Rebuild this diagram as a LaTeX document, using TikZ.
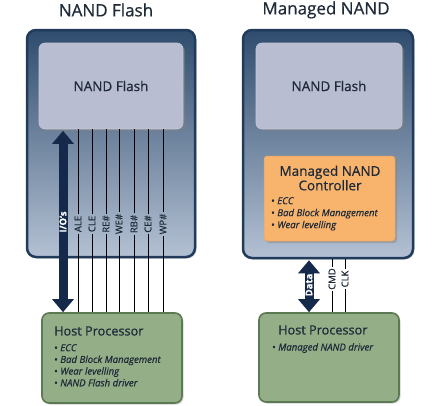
\documentclass[tikz,border=0pt]{standalone}
\usepackage{fontspec}
\setmainfont{Open Sans}[RawFeature={embolden=0.6}]
\usetikzlibrary{shadows,arrows.meta,calc}
\definecolor{navy}{HTML}{15294A}
\definecolor{panelborder}{HTML}{203B5C}
\definecolor{paneltop}{HTML}{2F4C6E}
\definecolor{panelmid}{HTML}{7088A5}
\definecolor{panelbot}{HTML}{B4C1D3}
\definecolor{chipfill}{HTML}{B9BDD1}
\definecolor{hostfill}{HTML}{94AE88}
\definecolor{hostborder}{HTML}{5B7A53}
\definecolor{ctrlfill}{HTML}{F8B46D}
\definecolor{txt}{HTML}{1E2A38}
\tikzset{
  panel/.style={draw=panelborder, line width=2.5pt, rounded corners=9pt,
    top color=paneltop, middle color=panelmid, bottom color=panelbot, inner sep=0pt,
    drop shadow={shadow xshift=1.5pt, shadow yshift=-1.5pt, opacity=0.35}},
  chip/.style={fill=chipfill, draw=chipfill!85!white, line width=0.6pt, rounded corners=6pt, inner sep=0pt,
    drop shadow={shadow xshift=2pt, shadow yshift=-2pt, opacity=0.5}},
  host/.style={fill=hostfill, draw=hostborder, line width=1.6pt, rounded corners=7pt, inner sep=0pt,
    drop shadow={shadow xshift=1.5pt, shadow yshift=-1.5pt, opacity=0.35}},
  ctrl/.style={fill=ctrlfill, draw=ctrlfill!90!black, line width=0.5pt, rounded corners=3pt, inner sep=0pt,
    drop shadow={shadow xshift=2pt, shadow yshift=-2pt, opacity=0.45}},
  sig/.style={rotate=90, font=\fontsize{9.5}{9.5}\selectfont, text=txt, inner sep=1.5pt},
  sigline/.style={draw=black, line width=0.6pt},
  bus/.style={draw=navy, line width=9pt,
    {Triangle[width=21pt,length=13pt]}-{Triangle[width=21pt,length=13pt]}},
  buslabel/.style={rotate=90, text=white, font=\fontsize{9.5}{9.5}\selectfont\bfseries, inner sep=0pt},
  title/.style={font=\fontsize{17}{17}\selectfont, text=txt},
  chiptext/.style={font=\fontsize{13.5}{13.5}\selectfont, text=txt},
  hosttitle/.style={font=\fontsize{12.7}{12.7}\selectfont, text=txt, anchor=west, inner sep=0pt},
  bullets/.style={font=\fontsize{9.6}{11.7}\selectfont\itshape, text=txt, align=left, anchor=north west, inner sep=0pt}
}
\begin{document}
\begin{tikzpicture}[x=1pt,y=-1pt]
\useasboundingbox (0,0) rectangle (439,405);

% titles
\node[title] (t1) at (106,10) {NAND Flash};
\node[title] (t2) at (326,10) {Managed NAND};

% panels
\node[panel, minimum width=168pt, minimum height=227pt] (lp) at (111,143.5) {};
\node[panel, minimum width=170pt, minimum height=228pt] (rp) at (328,144) {};

% NAND chips
\node[chip, minimum width=144pt, minimum height=86pt] (lnf) at (111,86) {};
\node[chiptext] at (lnf.center) {NAND Flash};
\node[chip, minimum width=146pt, minimum height=86pt] (rnf) at (329,86) {};
\node[chiptext] at (rnf.center) {NAND Flash};

% controller
\node[ctrl, minimum width=131pt, minimum height=85pt] (ctl) at (329.5,198.5) {};
\node[font=\fontsize{13.5}{12}\selectfont, text=txt, align=center] (ctlt) at (330,178) {Managed NAND\\Controller};
\node[bullets, font=\fontsize{9.6}{12}\selectfont\itshape] (ctlb) at (271,197) {{\upshape\textbullet} ECC\\{\upshape\textbullet} Bad Block Management\\{\upshape\textbullet} Wear levelling};

% hosts
\node[host, minimum width=140pt, minimum height=90pt] (lhost) at (112,358) {};
\node[hosttitle] (lht) at (54,331) {Host Processor};
\node[bullets] (lhb) at (54,344) {{\upshape\textbullet} ECC\\{\upshape\textbullet} Bad Block Management\\{\upshape\textbullet} Wear levelling\\{\upshape\textbullet} NAND Flash driver};
\node[host, minimum width=140pt, minimum height=89pt] (rhost) at (329,357.5) {};
\node[hosttitle] (rht) at (278,330) {Host Processor};
\node[bullets] (rhb) at (272,343) {{\upshape\textbullet} Managed NAND driver};

% left signal lines
\foreach \n/\x/\t in {ale/78/ALE, cle/92/CLE, re/106/RE\#, we/119/WE\#, rb/134/RB\#, ce/148/CE\#, wp/163/WP\#}{
  \node[sig] (\n) at (\x,224) {\t};
  \draw[sigline] (lnf.south -| \n) -- (\n.east);
  \draw[sigline] (\n.west) -- (lhost.north -| \n);
}
% I/O bus
\coordinate (io) at (63,0);
\draw[bus] ($(lnf.south -| io)+(0,1.5)$) -- (lhost.north -| io);
\node[buslabel] (iol) at (63,222) {I/O's};

% right signal lines
\foreach \n/\x/\t in {cmd/332/CMD, clk/345/CLK}{
  \node[sig] (\n) at (\x,279) {\t};
  \draw[sigline] (rp.south -| \n) -- (\n.east);
  \draw[sigline] (\n.west) -- (rhost.north -| \n);
}
\coordinate (db) at (309,0);
\draw[bus] ($(rp.south -| db)+(0,1)$) -- (rhost.north -| db);
\node[buslabel] (dl) at (309,285) {Data};
\end{tikzpicture}
\end{document}
